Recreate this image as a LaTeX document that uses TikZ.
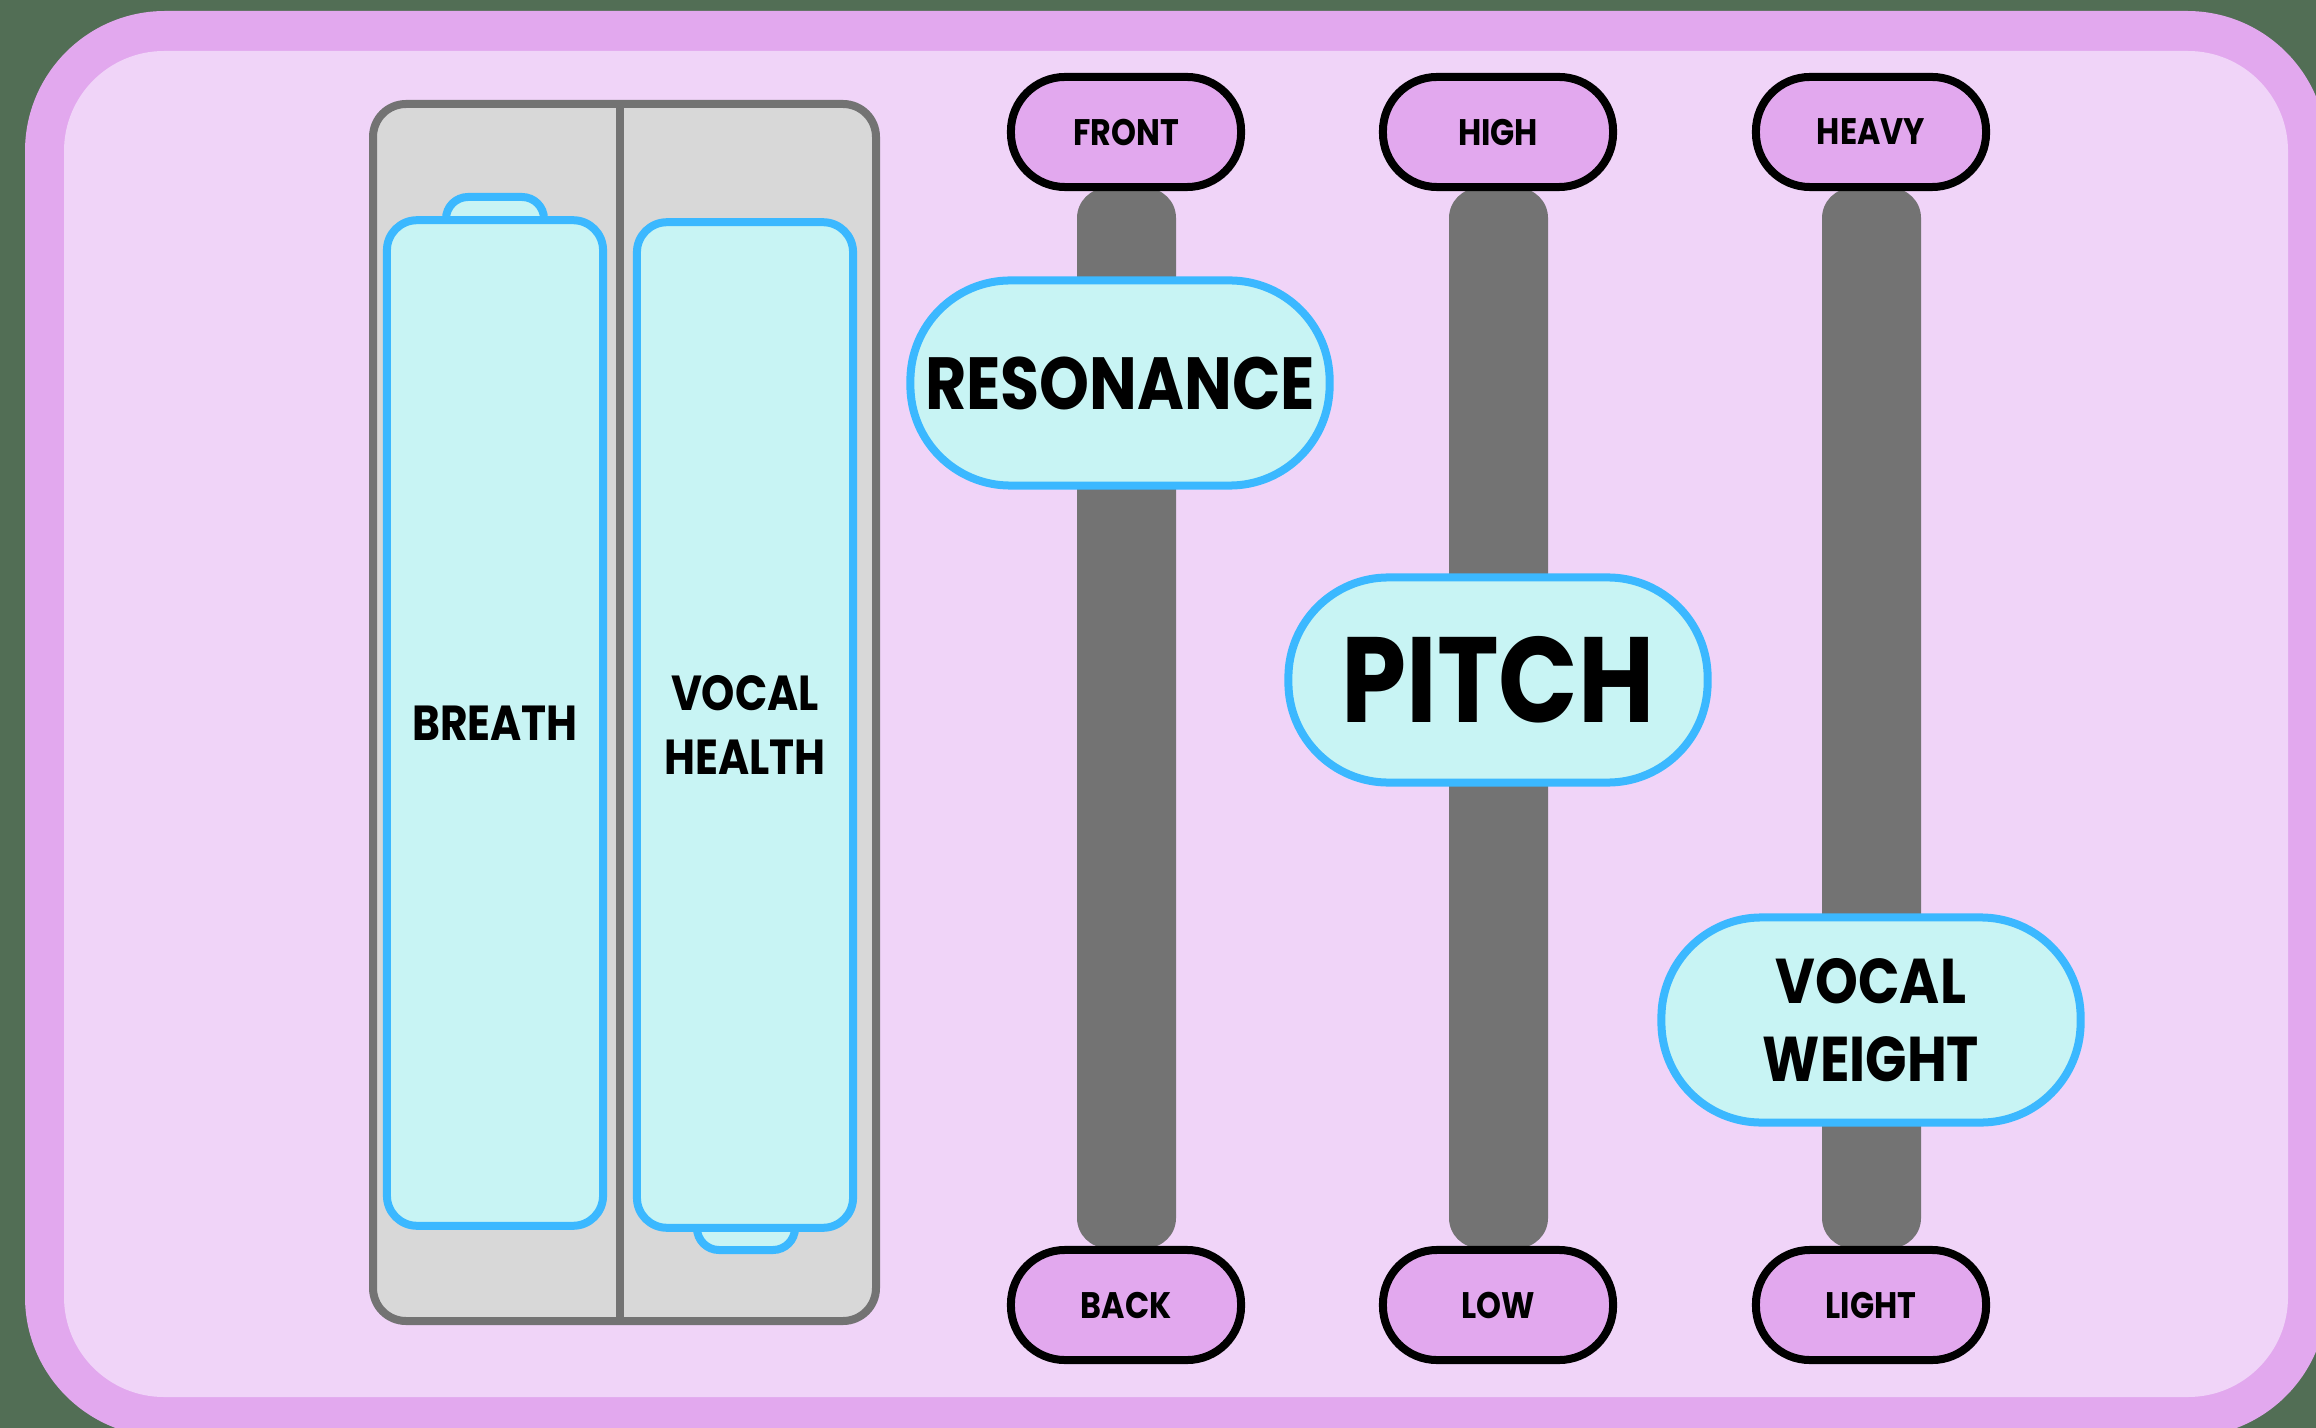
\documentclass[tikz,border=0pt]{standalone}
\usepackage{fontspec}
\newfontfamily\dialfont{Poppins}[FakeStretch=0.86]
\usepackage{tikz}
\usetikzlibrary{positioning, calc}
\definecolor{outercolor}{RGB}{82,110,85}
\definecolor{framecolor}{RGB}{226,168,238}
\definecolor{boardcolor}{RGB}{240,212,248}
\definecolor{panelcolor}{RGB}{216,216,216}
\definecolor{trackcolor}{RGB}{115,115,115}
\definecolor{cellline}{RGB}{59,184,255}
\definecolor{cellcolor}{RGB}{200,244,244}

\begin{document}
\begin{tikzpicture}[
    x=0.01cm, y=-0.01cm,
    pill/.style={draw=black, line width=0.8mm, fill=framecolor, minimum width=2.3cm, minimum height=1.1cm, rounded corners=0.54cm, inner sep=0pt, font=\dialfont\bfseries\fontsize{10.5}{12}\selectfont},
    knob/.style={draw=cellline, line width=0.8mm, fill=cellcolor, minimum width=4.19cm, minimum height=2.05cm, rounded corners=1cm, inner sep=0pt, align=center},
    cell/.style={draw=cellline, line width=0.8mm, fill=cellcolor, minimum width=2.16cm, minimum height=10.05cm, rounded corners=0.3cm, inner sep=0pt, align=center, font=\dialfont\bfseries\fontsize{14}{18}\selectfont},
    tab/.style={draw=cellline, line width=0.8mm, fill=cellcolor, rounded corners=0.22cm},
    track/.style={fill=trackcolor, rounded corners=0.3cm}
]
    \useasboundingbox (0,0) rectangle (2316,1428);
    \fill[outercolor] (0,0) rectangle (2316,1428);
    \fill[framecolor, rounded corners=1.4cm] (25,11) rectangle (2327,1437);
    \fill[boardcolor, rounded corners=1cm] (64,51) rectangle (2288,1397);

    \draw[draw=trackcolor, fill=panelcolor, line width=0.8mm, rounded corners=0.33cm] (373,104) rectangle (876,1321);
    \draw[trackcolor, line width=0.8mm] (620,104) -- (620,1321);

    \draw[tab] (446,197) rectangle (544,240);
    \draw[tab] (697,1200) rectangle (795,1250);
    \node[cell] (breath) at (495,723) {BREATH};
    \node[cell] (health) at (745,725) {VOCAL\\HEALTH};

    \fill[track] (1077,188) rectangle (1176,1248);
    \fill[track] (1449,188) rectangle (1548,1248);
    \fill[track] (1822,188) rectangle (1921,1248);

    \node[pill] (front) at (1126,132) {FRONT};
    \node[pill] (back) at (1126,1305) {BACK};
    \node[pill] (high) at (1498,132) {HIGH};
    \node[pill] (low) at (1498,1305) {LOW};
    \node[pill] (heavy) at (1871,132) {HEAVY};
    \node[pill] (light) at (1871,1305) {LIGHT};

    \node[knob, font=\dialfont\bfseries\fontsize{21}{24}\selectfont] (resonance) at (1120,383) {RESONANCE};
    \node[knob, font=\dialfont\bfseries\fontsize{34.5}{38}\selectfont] (pitch) at (1498,680) {PITCH};
    \node[knob, font=\dialfont\bfseries\fontsize{18}{22}\selectfont] (weight) at (1871,1020) {VOCAL\\WEIGHT};
\end{tikzpicture}
\end{document}
